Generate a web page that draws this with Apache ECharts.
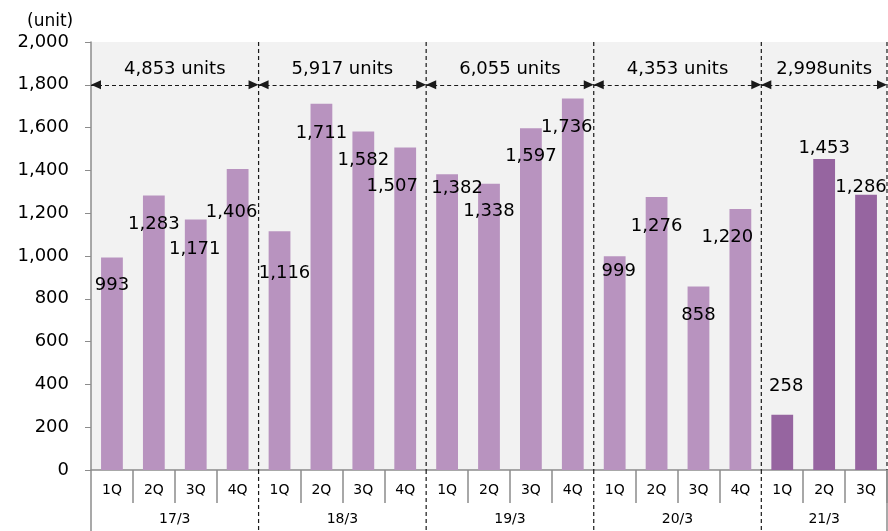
<!DOCTYPE html>
<html>
<head>
<meta charset="utf-8">
<script src="https://cdn.jsdelivr.net/npm/echarts@6/dist/echarts.min.js"></script>
<style>
  html, body { margin: 0; padding: 0; background: #fff; }
  #chart { width: 888px; height: 531px; }
</style>
</head>
<body>
<div id="chart"></div>
<script>
// ---- data ----
const quarters = ['1Q','2Q','3Q','4Q','1Q','2Q','3Q','4Q','1Q','2Q','3Q','4Q','1Q','2Q','3Q','4Q','1Q','2Q','3Q'];
const years = ['17/3','18/3','19/3','20/3','21/3'];
const quartersPerYear = [4, 4, 4, 4, 3];
const units = [993, 1283, 1171, 1406, 1116, 1711, 1582, 1507, 1382, 1338, 1597, 1736, 999, 1276, 858, 1220, 258, 1453, 1286];
const yearTotalLabels = ['4,853 units', '5,917 units', '6,055 units', '4,353 units', '2,998units'];
const yMin = 0, yMax = 2000, yStep = 200, arrowLevel = 1800;

// ---- label placement (style only) ----
const labelDx = [0, 0, -1, -6, 5, 0, 0, -13, 10, 0, 0, -6, 4, 0, 0, -13, 4, 0, -5];
const labelDy = [28, 29, 30, 43, 42, 29, 29, 39, 14, 28, 28, 29, 15, 29, 29, 28, -28, -11, -7];

// year boundaries derived from quarter counts
const starts = [];
let acc = 0;
quartersPerYear.forEach(n => { starts.push(acc); acc += n; });
const total = acc;
const yearOf = [];
quartersPerYear.forEach((n, yi) => { for (let k = 0; k < n; k++) yearOf.push(yi); });
const boundarySet = new Set(starts);

const FONT = '"DejaVu Sans", Verdana, sans-serif';
const lightColor = '#b893bf';
const darkColor = '#9665a0';
const axisGray = '#8c8c8c';

const chart = echarts.init(document.getElementById('chart'), null, { renderer: 'canvas' });

const option = {
  animation: false,
  title: {
    text: '(unit)',
    left: 22, top: 8,
    textStyle: { fontFamily: FONT, fontSize: 17, fontWeight: 'normal', color: '#000' }
  },
  grid: {
    left: 91, right: 1, top: 42, bottom: 61,
    show: true, backgroundColor: '#f2f2f2', borderWidth: 0
  },
  xAxis: [
    {
      type: 'category',
      data: quarters,
      position: 'bottom',
      axisLine: { show: true, lineStyle: { color: axisGray, width: 1.5 } },
      axisTick: {
        show: true, length: 33,
        interval: (idx) => !boundarySet.has(idx),
        lineStyle: { color: axisGray, width: 1.5 }
      },
      axisLabel: { interval: 0, margin: 13, fontFamily: FONT, fontSize: 14, color: '#000' },
      splitLine: { show: false }
    },
    {
      type: 'value',
      show: false,
      min: 0, max: total,
      position: 'bottom'
    }
  ],
  yAxis: {
    type: 'value',
    min: yMin, max: yMax, interval: yStep,
    axisLine: { show: true, lineStyle: { color: axisGray, width: 1.5 } },
    axisTick: { show: true, length: 6, lineStyle: { color: axisGray, width: 1 } },
    axisLabel: {
      margin: 22, fontFamily: FONT, fontSize: 18, color: '#000',
      formatter: v => v.toLocaleString('en-US')
    },
    splitLine: { show: false }
  },
  series: [
    {
      type: 'bar',
      xAxisIndex: 0,
      barWidth: '52%',
      data: units.map((v, i) => ({
        value: v,
        itemStyle: { color: yearOf[i] === years.length - 1 ? darkColor : lightColor },
        label: { offset: [labelDx[i], labelDy[i]] }
      })),
      label: {
        show: true,
        position: ['50%', 0],
        align: 'center',
        verticalAlign: 'middle',
        fontFamily: FONT, fontSize: 18, color: '#000',
        formatter: p => p.value.toLocaleString('en-US')
      },
      z: 2
    },
    {
      type: 'custom',
      xAxisIndex: 1,
      yAxisIndex: 0,
      clip: false,
      silent: true,
      z: 3,
      data: starts.map((s, i) => [s, s + quartersPerYear[i]]),
      encode: { x: [0, 1] },
      renderItem: (params, api) => {
        const s = api.value(0), e = api.value(1), idx = params.dataIndex;
        const dash = { stroke: '#1a1a1a', lineWidth: 1.2, lineDash: [4, 3], fill: null };
        const solid = { stroke: axisGray, lineWidth: 1.5, fill: null };
        const children = [];
        const below = 62;
        function boundary(x, isFirst, isLast) {
          const t = api.coord([x, yMax]);
          const b = api.coord([x, yMin]);
          if (!isFirst) {
            children.push({ type: 'line', shape: { x1: t[0], y1: t[1], x2: b[0], y2: b[1] }, style: dash });
          }
          children.push({
            type: 'line',
            shape: { x1: b[0], y1: b[1], x2: b[0], y2: b[1] + below },
            style: (isFirst || isLast) ? solid : dash
          });
        }
        boundary(s, s === 0, false);
        if (idx === years.length - 1) boundary(e, false, true);
        const m = api.coord([(s + e) / 2, yMin]);
        children.push({
          type: 'text',
          style: {
            text: years[idx], x: m[0], y: m[1] + 49,
            align: 'center', verticalAlign: 'middle',
            fontFamily: FONT, fontSize: 14, fill: '#000'
          }
        });
        return { type: 'group', children };
      }
    },
    {
      type: 'line',
      xAxisIndex: 1,
      yAxisIndex: 0,
      data: [],
      silent: true,
      z: 4,
      markLine: {
        silent: true,
        animation: false,
        symbol: ['triangle', 'triangle'],
        symbolSize: [9, 10],
        symbolOffset: [[0, 5], [0, 5]],
        lineStyle: { type: [4, 3], color: '#1a1a1a', width: 1.2 },
        label: {
          show: true, position: 'middle', distance: 6,
          formatter: '{b}',
          fontFamily: FONT, fontSize: 18, color: '#000'
        },
        emphasis: { disabled: true },
        data: starts.map((s, i) => [
          { coord: [s, arrowLevel], name: yearTotalLabels[i] },
          { coord: [s + quartersPerYear[i], arrowLevel] }
        ])
      }
    }
  ]
};

chart.setOption(option);
</script>
</body>
</html>
